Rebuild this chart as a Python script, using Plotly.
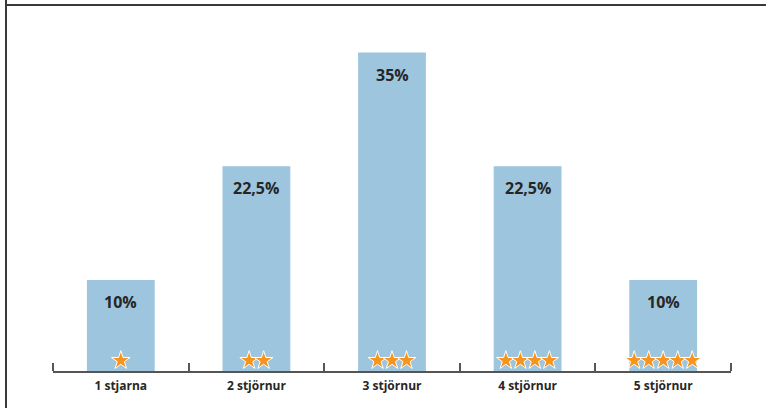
import plotly.graph_objects as go

# Rating distribution
categories = ["1 stjarna", "2 stjörnur", "3 stjörnur", "4 stjörnur", "5 stjörnur"]
star_counts = [1, 2, 3, 4, 5]
shares = [10, 22.5, 35, 22.5, 10]
share_labels = ["10%", "22,5%", "35%", "22,5%", "10%"]

BAR_COLOR = "#9ec5de"
STAR_COLOR = "#f7941d"
TEXT_COLOR = "#262626"
FONT = "Open Sans"

W, H = 766, 408
ML, MR, MT, MB = 53, 35, 5, 37
plot_w = W - ML - MR
plot_h = H - MT - MB
px_per_unit = 9.1
y_max = plot_h / px_per_unit

xs = list(range(len(categories)))

fig = go.Figure()
fig.add_trace(go.Bar(
    x=xs, y=shares, width=0.5, marker=dict(color=BAR_COLOR, line=dict(width=0)),
    hoverinfo="skip", showlegend=False,
))

# star icons along the bottom of each bar
star_step = 14.5 / (plot_w / 5)
sx, sy = [], []
for x, n in zip(xs, star_counts):
    for k in range(n):
        sx.append(x + (k - (n - 1) / 2) * star_step)
        sy.append(10.5 / px_per_unit)
fig.add_trace(go.Scatter(
    x=sx, y=sy, mode="markers", hoverinfo="skip", showlegend=False,
    marker=dict(symbol="star", size=14, color=STAR_COLOR, line=dict(color="white", width=1)),
))

# value labels near the top of the bars
for x, v, t in zip(xs, shares, share_labels):
    fig.add_annotation(x=x, y=v, text=f"<b>{t}</b>", showarrow=False, yanchor="top", yshift=-9,
                       font=dict(family=FONT, size=16, color=TEXT_COLOR))

# frame lines on the top and left edges
fig.add_shape(type="line", xref="paper", yref="paper",
              x0=(6 - ML) / plot_w, x1=(W - ML) / plot_w, y0=1, y1=1,
              line=dict(color="#3a3a3a", width=2))
fig.add_shape(type="line", xref="paper", yref="paper",
              x0=(6 - ML) / plot_w, x1=(6 - ML) / plot_w, y0=-MB / plot_h, y1=1 + MT / plot_h,
              line=dict(color="#3a3a3a", width=2))

fig.update_layout(
    width=W, height=H, margin=dict(l=ML, r=MR, t=MT, b=MB),
    paper_bgcolor="white", plot_bgcolor="white", bargap=0.5,
    font=dict(family=FONT, color=TEXT_COLOR),
    xaxis=dict(
        range=[-0.5, 4.5], tickvals=xs, ticktext=[f"<b>{c}</b>" for c in categories],
        ticks="", tickfont=dict(size=12, color=TEXT_COLOR, family=FONT), ticklabelstandoff=3,
        showline=True, linecolor="#555555", linewidth=2, showgrid=False, zeroline=False,
        minor=dict(tickvals=[i - 0.5 for i in range(len(categories) + 1)], ticks="inside",
                   ticklen=8, tickcolor="#555555", tickwidth=1.5, showgrid=False),
    ),
    yaxis=dict(range=[0, y_max], visible=False, showgrid=False, zeroline=False),
)

fig.write_html("out.html")
